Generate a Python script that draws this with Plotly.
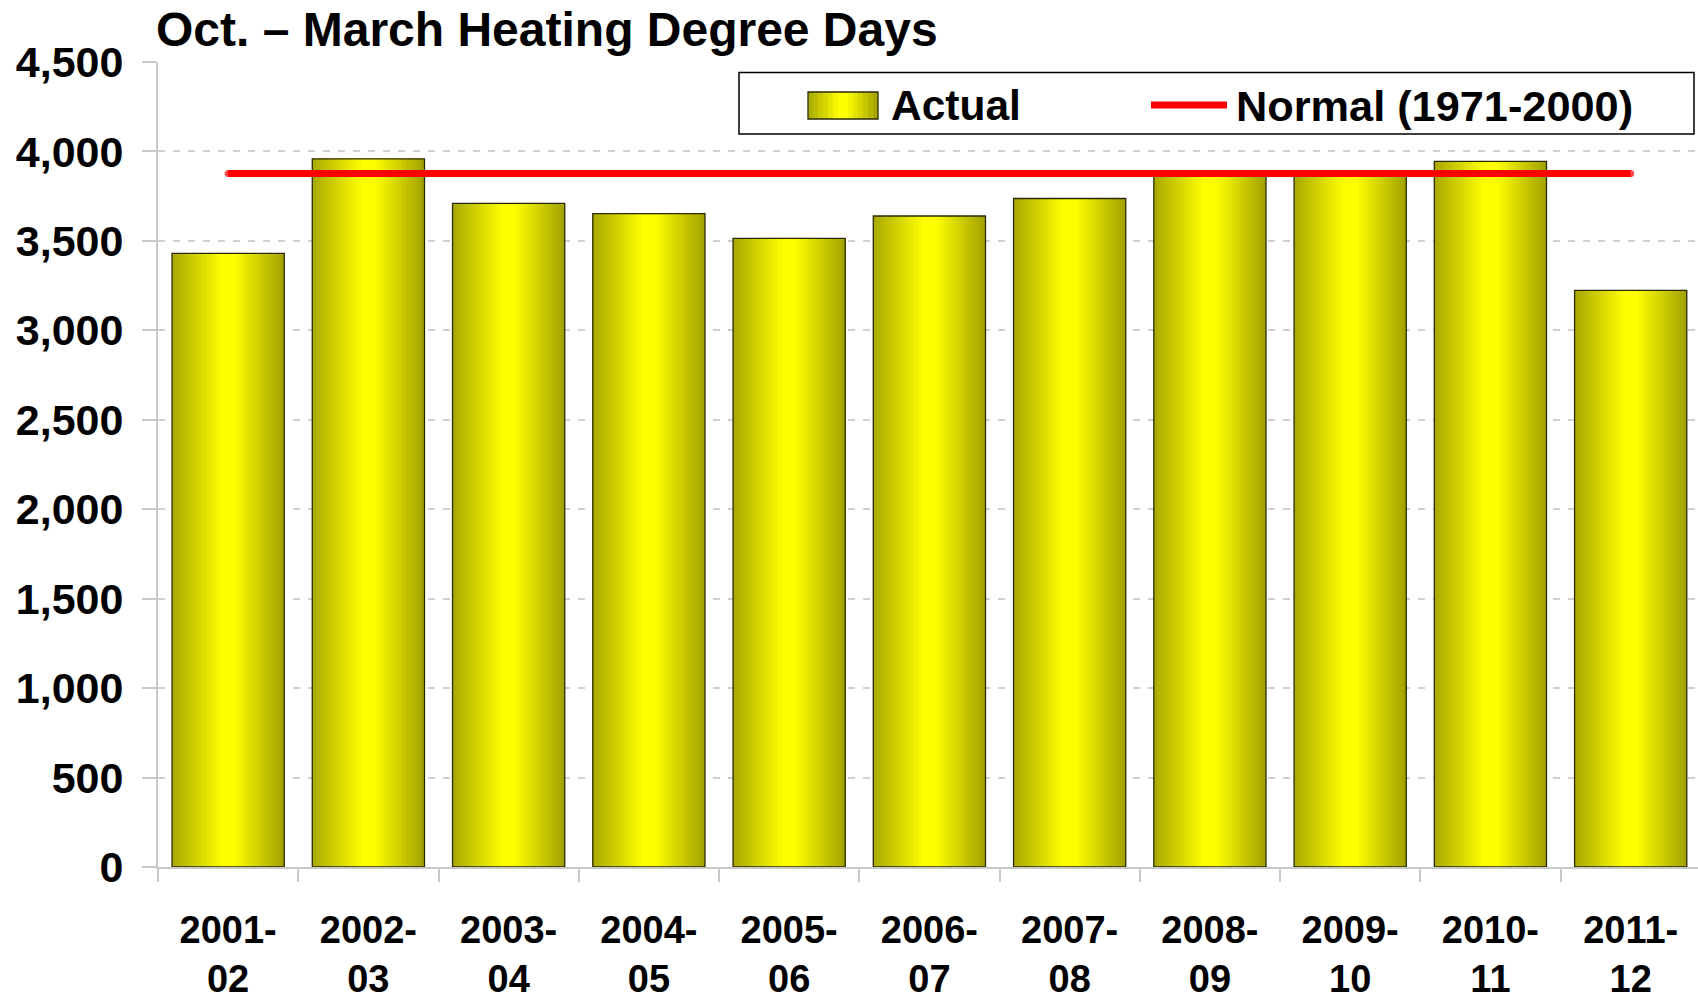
import numpy as np
import plotly.graph_objects as go

# ---------------- data ----------------
season_labels = ["2001-<br>02", "2002-<br>03", "2003-<br>04", "2004-<br>05", "2005-<br>06",
                 "2006-<br>07", "2007-<br>08", "2008-<br>09", "2009-<br>10", "2010-<br>11",
                 "2011-<br>12"]
actual_hdd = [3430, 3959, 3710, 3652, 3514, 3639, 3737, 3875, 3870, 3944, 3223]
normal_hdd = [3877, 3877, 3877, 3877, 3877, 3877, 3877, 3877, 3877, 3877, 3877]
y_tick_values = [0, 500, 1000, 1500, 2000, 2500, 3000, 3500, 4000, 4500]
y_tick_text = ["0", "500", "1,000", "1,500", "2,000", "2,500", "3,000", "3,500", "4,000", "4,500"]
title_text = "Oct. – March Heating Degree Days"
series_names = ["Actual", "Normal (1971-2000)"]

# ---------------- style ----------------
W, H = 1698, 1000
ML, MR, MT, MB = 158, 0, 62, 133
FONT = "Liberation Sans, Arial, Helvetica, sans-serif"
GRID = "#d0d0d0"
AXIS = "#c8c8c8"

stops = [(0.0, (168, 168, 0)), (0.45, (255, 255, 0)), (0.55, (255, 255, 0)), (1.0, (160, 160, 0))]


def grad(t):
    for (t0, c0), (t1, c1) in zip(stops[:-1], stops[1:]):
        if t0 <= t <= t1:
            f = 0 if t1 == t0 else (t - t0) / (t1 - t0)
            c = [round(a + (b - a) * f) for a, b in zip(c0, c1)]
            return "rgb(%d,%d,%d)" % tuple(c)
    return "rgb(%d,%d,%d)" % stops[-1][1]


def px_x(px):
    return (px - ML) / (W - ML - MR)


def px_y(py):
    return (H - MB - py) / (H - MT - MB)


fig = go.Figure()

# gradient bars built from vertical slices of the same bar series
N = 30
BW = 0.8
step = BW / N
for j in range(N):
    off = -BW / 2 + j * step
    w = min(step * 1.6, BW / 2 - off)
    fig.add_trace(go.Bar(
        x=season_labels, y=actual_hdd, offset=off, width=w,
        marker=dict(color=grad((j + 0.5) / N), line=dict(width=0)),
        opacity=1, showlegend=False, hoverinfo="skip"))

# outline of the bars
fig.add_trace(go.Bar(
    x=season_labels, y=actual_hdd, offset=-BW / 2, width=BW, name=series_names[0],
    marker=dict(color="rgba(0,0,0,0)", line=dict(color="#2a2a00", width=1.3)),
    opacity=1, showlegend=False))

# normal line (round caps at the two ends)
cap_sizes = [7 if i in (0, len(normal_hdd) - 1) else 0 for i in range(len(normal_hdd))]
fig.add_trace(go.Scatter(
    x=season_labels, y=normal_hdd, mode="lines+markers", name=series_names[1],
    line=dict(color="#ff0000", width=7),
    marker=dict(color="#ff0000", size=cap_sizes, line=dict(width=0)),
    showlegend=False))

# ---------------- manual legend ----------------
shapes = []
shapes.append(dict(type="rect", xref="paper", yref="paper",
                   x0=px_x(739), x1=px_x(1694), y0=px_y(134), y1=px_y(72.5),
                   line=dict(color="black", width=1.5), fillcolor="white", layer="above"))
sx0, sx1, sy0, sy1 = 808, 878, 92, 119
NS = 14
for j in range(NS):
    a = sx0 + (sx1 - sx0) * j / NS
    b = sx0 + (sx1 - sx0) * (j + 1) / NS + (0.8 if j < NS - 1 else 0)
    shapes.append(dict(type="rect", xref="paper", yref="paper",
                       x0=px_x(a), x1=px_x(b), y0=px_y(sy1), y1=px_y(sy0),
                       line=dict(width=0), fillcolor=grad((j + 0.5) / NS), layer="above"))
shapes.append(dict(type="rect", xref="paper", yref="paper",
                   x0=px_x(sx0), x1=px_x(sx1), y0=px_y(sy1), y1=px_y(sy0),
                   line=dict(color="#2a2a00", width=1.3), fillcolor="rgba(0,0,0,0)", layer="above"))
shapes.append(dict(type="line", xref="paper", yref="paper",
                   x0=px_x(1151), x1=px_x(1227), y0=px_y(105), y1=px_y(105),
                   line=dict(color="#ff0000", width=7), layer="above"))

annotations = [
    dict(text=series_names[0], xref="paper", yref="paper", x=px_x(889), y=px_y(106),
         xanchor="left", yanchor="middle", showarrow=False,
         font=dict(family=FONT, size=42.5, color="black", weight="bold")),
    dict(text=series_names[1], xref="paper", yref="paper", x=px_x(1234), y=px_y(106),
         xanchor="left", yanchor="middle", showarrow=False,
         font=dict(family=FONT, size=43.3, color="black", weight="bold")),
]

fig.update_layout(
    width=W, height=H,
    margin=dict(l=ML, r=MR, t=MT, b=MB, pad=0),
    paper_bgcolor="white", plot_bgcolor="white",
    barmode="overlay",
    showlegend=False,
    title=dict(text=title_text, x=156 / W, xanchor="left", xref="container",
               y=1 - 29 / H, yanchor="middle", yref="container",
               font=dict(family=FONT, size=48, color="black", weight="bold")),
    shapes=shapes,
    annotations=annotations,
    xaxis=dict(type="category", range=[-0.5, 10.48], showgrid=False,
               showline=True, linecolor=AXIS, linewidth=2,
               ticks="outside", tickson="boundaries", ticklen=13, tickcolor=AXIS, tickwidth=1.5,
               tickfont=dict(family=FONT, size=38, color="black", weight="bold"),
               ticklabelstandoff=28),
    yaxis=dict(range=[0, 4500], tickmode="array", tickvals=y_tick_values, ticktext=y_tick_text,
               showgrid=True, gridcolor=GRID, gridwidth=1.5, griddash="7px,8px",
               showline=True, linecolor=AXIS, linewidth=2, zeroline=False,
               ticks="outside", ticklen=14, tickcolor=AXIS, tickwidth=1.5,
               tickfont=dict(family=FONT, size=43, color="black", weight="bold"),
               ticklabelstandoff=10),
)

fig.write_html("out.html", include_plotlyjs=True, config={"displayModeBar": False},
               post_script="document.body.style.margin='0';document.body.style.overflow='hidden';")
